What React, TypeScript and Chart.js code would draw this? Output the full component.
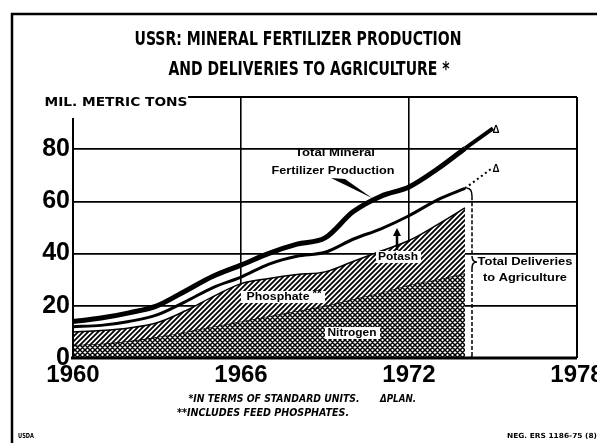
import React, { useEffect, useRef } from 'react';
import { Chart, registerables } from 'chart.js';

Chart.register(...registerables);

// ---- data (mln. metric tons, standard units) ----
const years = [1960, 1961, 1962, 1963, 1964, 1965, 1966, 1967, 1968, 1969, 1970, 1971, 1972, 1973, 1974];
const production = [14, 15.3, 17.3, 20, 25.6, 31.3, 35.6, 40.1, 43.6, 46, 56, 62, 65.5, 72.3, 80.3];
const planYears = [1974, 1975];
const productionPlan = [80.3, 88];
const deliveries = [12, 12.5, 14, 16.5, 21.5, 27, 31, 36, 39, 40.5, 45.5, 49.5, 54.5, 60.5, 65];
const deliveriesPlan = [65, 73];
const nitrogen = [5, 5.5, 6.5, 8, 10, 12, 14, 16, 18, 20, 22.5, 25, 28, 30, 32.5];
const phosphate = [5, 5, 5, 5.5, 8, 11.5, 14.5, 14.5, 14, 13, 14.5, 16, 17, 21, 25];
const xTickLabels = [1960, 1966, 1972, 1978];
const yTickLabels = [0, 20, 40, 60, 80];

const W = 597;
const H = 443;
const SANS = '"Liberation Sans", Arial, sans-serif';
const NARROW = '"Liberation Sans Narrow", "DejaVu Sans Condensed", "Liberation Sans", sans-serif';

function pts(xs: number[], ys: number[]) {
  return xs.map((x, i) => ({ x, y: ys[i] }));
}

function makePattern(ctx: CanvasRenderingContext2D, kind: 'diag' | 'cross') {
  const s = 5;
  const c = document.createElement('canvas');
  c.width = s;
  c.height = s;
  const g = c.getContext('2d')!;
  g.fillStyle = '#fff';
  g.fillRect(0, 0, s, s);
  g.strokeStyle = '#000';
  g.lineWidth = kind === 'cross' ? 1.5 : 1.8;
  g.beginPath();
  g.moveTo(-1, s + 1); g.lineTo(s + 1, -1);
  g.moveTo(-1, 1); g.lineTo(1, -1);
  g.moveTo(s - 1, s + 1); g.lineTo(s + 1, s - 1);
  if (kind === 'cross') {
    g.moveTo(-1, -1); g.lineTo(s + 1, s + 1);
    g.moveTo(s - 1, -1); g.lineTo(s + 1, 1);
    g.moveTo(-1, s - 1); g.lineTo(1, s + 1);
  }
  g.stroke();
  return ctx.createPattern(c, 'repeat')!;
}

function fitText(ctx: CanvasRenderingContext2D, text: string, cx: number, cy: number, width: number, font: string) {
  ctx.save();
  ctx.font = font;
  ctx.textAlign = 'center';
  ctx.textBaseline = 'middle';
  ctx.fillStyle = '#000';
  const w = ctx.measureText(text).width;
  ctx.translate(cx, cy);
  ctx.scale(width / w, 1);
  ctx.fillText(text, 0, 0);
  ctx.restore();
}

function whiteBox(ctx: CanvasRenderingContext2D, x: number, y: number, w: number, h: number) {
  ctx.save();
  ctx.fillStyle = '#fff';
  ctx.fillRect(x, y, w, h);
  ctx.restore();
}

const decor = {
  id: 'decor',
  beforeDraw(chart: any) {
    const ctx = chart.ctx as CanvasRenderingContext2D;
    ctx.save();
    ctx.fillStyle = '#fff';
    ctx.fillRect(0, 0, W, H);
    ctx.restore();
  },
  afterDraw(chart: any) {
    const ctx = chart.ctx as CanvasRenderingContext2D;
    const { left, right, top, bottom } = chart.chartArea;
    const xs = chart.scales.x;
    const ys = chart.scales.y;
    ctx.save();
    ctx.strokeStyle = '#000';
    ctx.fillStyle = '#000';

    // outer frame
    ctx.lineWidth = 2.5;
    ctx.beginPath();
    ctx.moveTo(12, H);
    ctx.lineTo(12, 14);
    ctx.lineTo(W, 14);
    ctx.stroke();

    // plot box pieces
    ctx.lineWidth = 2;
    ctx.beginPath();
    ctx.moveTo(left, 118);
    ctx.lineTo(left, bottom);
    ctx.moveTo(188, top);
    ctx.lineTo(right, top);
    ctx.stroke();
    ctx.lineWidth = 3;
    ctx.beginPath();
    ctx.moveTo(left - 2, bottom);
    ctx.lineTo(right, bottom);
    ctx.stroke();

    // titles
    fitText(ctx, 'USSR: MINERAL FERTILIZER PRODUCTION', 298, 40, 327, 'bold 19px ' + NARROW);
    fitText(ctx, 'AND DELIVERIES TO AGRICULTURE *', 309, 70, 281, 'bold 19px ' + NARROW);
    fitText(ctx, 'MIL. METRIC TONS', 116, 103, 143, 'bold 12px ' + NARROW);

    // production label + pointer
    fitText(ctx, 'Total Mineral', 335, 153, 80, 'bold 11px ' + SANS);
    fitText(ctx, 'Fertilizer Production', 333, 171, 123, 'bold 11px ' + SANS);
    ctx.beginPath();
    ctx.moveTo(331, 178);
    ctx.lineTo(345, 179);
    ctx.lineTo(372, 198);
    ctx.closePath();
    ctx.fill();

    // component labels
    whiteBox(ctx, 241, 291, 84, 12);
    fitText(ctx, 'Phosphate', 278, 297, 63, 'bold 11px ' + SANS);
    fitText(ctx, '**', 317, 294, 9, 'bold 10px ' + SANS);
    whiteBox(ctx, 325, 327, 55, 12);
    fitText(ctx, 'Nitrogen', 352, 333, 49, 'bold 11px ' + SANS);
    whiteBox(ctx, 376, 251, 45, 12);
    fitText(ctx, 'Potash', 398, 257, 40, 'bold 11px ' + SANS);
    ctx.lineWidth = 2.5;
    ctx.beginPath();
    ctx.moveTo(397, 250);
    ctx.lineTo(397, 231);
    ctx.stroke();
    ctx.beginPath();
    ctx.moveTo(393, 236);
    ctx.lineTo(397, 228);
    ctx.lineTo(401, 236);
    ctx.closePath();
    ctx.fill();

    // deliveries bracket
    const bx = xs.getPixelForValue(1974.25);
    const btop = ys.getPixelForValue(deliveries[deliveries.length - 1]);
    ctx.lineWidth = 1.5;
    ctx.setLineDash([4, 2]);
    ctx.beginPath();
    ctx.moveTo(bx, btop + 8);
    ctx.lineTo(bx, 256);
    ctx.moveTo(bx, 268);
    ctx.lineTo(bx, bottom - 2);
    ctx.stroke();
    ctx.setLineDash([]);
    ctx.beginPath();
    ctx.moveTo(bx - 5, btop);
    ctx.quadraticCurveTo(bx, btop, bx, btop + 8);
    ctx.moveTo(bx, 256);
    ctx.quadraticCurveTo(bx, 262, bx + 5, 262);
    ctx.quadraticCurveTo(bx, 262, bx, 268);
    ctx.moveTo(bx, bottom - 2);
    ctx.quadraticCurveTo(bx, bottom, bx - 5, bottom);
    ctx.stroke();
    fitText(ctx, 'Total Deliveries', 525, 262, 95, 'bold 11px ' + SANS);
    fitText(ctx, 'to Agriculture', 525, 278, 84, 'bold 11px ' + SANS);

    // plan markers
    const px = xs.getPixelForValue(planYears[1]) + 3;
    fitText(ctx, 'Δ', px, ys.getPixelForValue(productionPlan[1]) + 2, 7, 'bold 10px ' + SANS);
    fitText(ctx, 'Δ', px, ys.getPixelForValue(deliveriesPlan[1]) + 2, 7, 'bold 10px ' + SANS);

    // footnotes
    const fn = 'italic bold 10px ' + NARROW;
    fitText(ctx, '*IN TERMS OF STANDARD UNITS.', 274, 399, 171, fn);
    fitText(ctx, 'ΔPLAN.', 398, 399, 36, fn);
    fitText(ctx, '**INCLUDES FEED PHOSPHATES.', 263, 413, 172, fn);
    fitText(ctx, 'USDA', 26, 436, 16, 'bold 7px ' + NARROW);
    fitText(ctx, 'NEG. ERS 1186-75 (8)', 552, 436, 90, 'bold 7px ' + NARROW);

    ctx.restore();
  },
};

export default function App() {
  const ref = useRef<HTMLCanvasElement>(null);

  useEffect(() => {
    const canvas = ref.current!;
    const c2d = canvas.getContext('2d')!;
    const diag = makePattern(c2d, 'diag');
    const cross = makePattern(c2d, 'cross');
    const hatchTop = nitrogen.map((n, i) => n + phosphate[i]);

    const chart = new Chart(canvas, {
      type: 'line',
      data: {
        datasets: [
          {
            label: 'Nitrogen',
            data: pts(years, nitrogen),
            fill: 'origin',
            backgroundColor: cross,
            borderColor: '#000',
            borderWidth: 1.2,
            pointRadius: 0,
            cubicInterpolationMode: 'monotone',
            order: 4,
          },
          {
            label: 'Phosphate',
            data: pts(years, hatchTop),
            fill: '-1',
            backgroundColor: diag,
            borderColor: '#000',
            borderWidth: 1.5,
            pointRadius: 0,
            cubicInterpolationMode: 'monotone',
            order: 3,
          },
          {
            label: 'Total Deliveries to Agriculture',
            data: pts(years, deliveries),
            fill: false,
            borderColor: '#000',
            borderWidth: 3,
            pointRadius: 0,
            cubicInterpolationMode: 'monotone',
            order: 2,
          },
          {
            label: 'Deliveries plan',
            data: pts(planYears, deliveriesPlan),
            fill: false,
            borderColor: '#000',
            borderWidth: 2,
            borderDash: [2, 3],
            pointRadius: 0,
            order: 2,
          },
          {
            label: 'Total Mineral Fertilizer Production',
            data: pts(years, production),
            fill: false,
            borderColor: '#000',
            borderWidth: 5,
            pointRadius: 0,
            cubicInterpolationMode: 'monotone',
            order: 1,
          },
          {
            label: 'Production plan',
            data: pts(planYears, productionPlan),
            fill: false,
            borderColor: '#000',
            borderWidth: 4,
            pointRadius: 0,
            order: 1,
          },
        ],
      },
      options: {
        responsive: false,
        devicePixelRatio: 1,
        animation: false,
        events: [],
        layout: { padding: { top: 97, right: 20, left: 0, bottom: 0 } },
        plugins: { legend: { display: false }, tooltip: { enabled: false }, title: { display: false } },
        scales: {
          x: {
            type: 'linear',
            min: xTickLabels[0],
            max: xTickLabels[xTickLabels.length - 1],
            afterBuildTicks: (scale: any) => {
              scale.ticks = xTickLabels.map((v) => ({ value: v }));
            },
            afterFit: (scale: any) => {
              scale.height = H - 358;
              scale.paddingLeft = 0;
              scale.paddingRight = 0;
            },
            border: { display: false },
            grid: {
              drawTicks: false,
              color: (c: any) => (c.tick && c.tick.value === xTickLabels[0] ? 'rgba(0,0,0,0)' : '#000'),
              lineWidth: (c: any) => (c.tick && c.tick.value === xTickLabels[xTickLabels.length - 1] ? 2 : 1.6),
            },
            ticks: {
              autoSkip: false,
              maxRotation: 0,
              padding: 3,
              color: '#000',
              font: { family: SANS, size: 24, weight: 'bold' },
              callback: (v: any) => String(v),
            },
          },
          y: {
            min: 0,
            max: 100,
            afterBuildTicks: (scale: any) => {
              scale.ticks = [...yTickLabels, 100].map((v) => ({ value: v }));
            },
            afterFit: (scale: any) => {
              scale.width = 73;
              scale.paddingTop = 0;
              scale.paddingBottom = 0;
            },
            border: { display: false },
            grid: {
              drawTicks: false,
              color: (c: any) => (c.tick && (c.tick.value === 0 || c.tick.value === 100) ? 'rgba(0,0,0,0)' : '#000'),
              lineWidth: 1.8,
            },
            ticks: {
              padding: 3,
              color: '#000',
              font: { family: SANS, size: 25, weight: 'bold' },
              callback: (v: any) => (yTickLabels.includes(v) ? String(v) : ''),
            },
          },
        },
      },
      plugins: [decor],
    } as any);

    return () => chart.destroy();
  }, []);

  return (
    <div style={{ position: 'fixed', left: 0, top: 0, width: W, height: H, background: '#fff' }}>
      <canvas ref={ref} width={W} height={H} style={{ display: 'block', width: W, height: H }} />
    </div>
  );
}
